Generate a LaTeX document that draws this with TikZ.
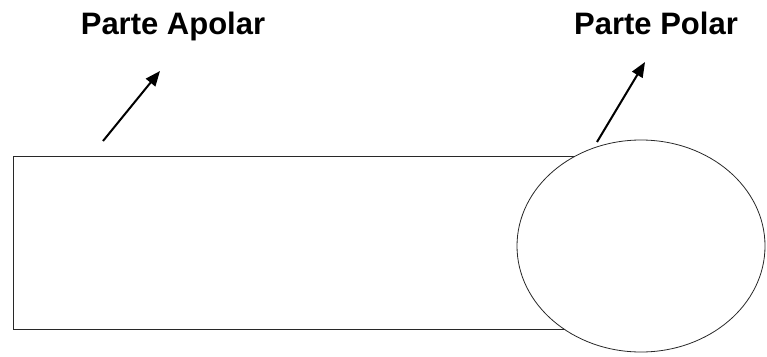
\documentclass[tikz,border=0pt]{standalone}
\usepackage{fontspec}
\setmainfont{Liberation Sans}
\usepackage{tikz}
\usetikzlibrary{arrows.meta, positioning, shapes.geometric}
\definecolor{lineg}{RGB}{40,40,40}

\begin{document}
\begin{tikzpicture}[x=1pt,y=-1pt, every node/.style={font=\fontsize{31}{34}\selectfont\bfseries,inner sep=0pt},
    arr/.style={-{Triangle[length=15pt,width=12pt]},line width=2pt}]
  \useasboundingbox (0,0) rectangle (767,356);
  \node[draw=lineg,line width=0.9pt,minimum width=640pt,minimum height=173pt,anchor=north west] (tail) at (13,156) {};
  \node[draw=lineg,line width=0.8pt,fill=white,ellipse,minimum width=248pt,minimum height=212pt] (head) at (641,246) {};
  \node[anchor=base] (lapolar) at (173,34) {Parte Apolar};
  \node[anchor=base] (lpolar) at (656,34) {Parte Polar};
  \coordinate (s1) at (103,141);
  \coordinate (t1) at (160,71);
  \coordinate (s2) at (597,142);
  \coordinate (t2) at (645,62);
  \draw[arr] (s1) -- (t1);
  \draw[arr] (s2) -- (t2);
\end{tikzpicture}
\end{document}
